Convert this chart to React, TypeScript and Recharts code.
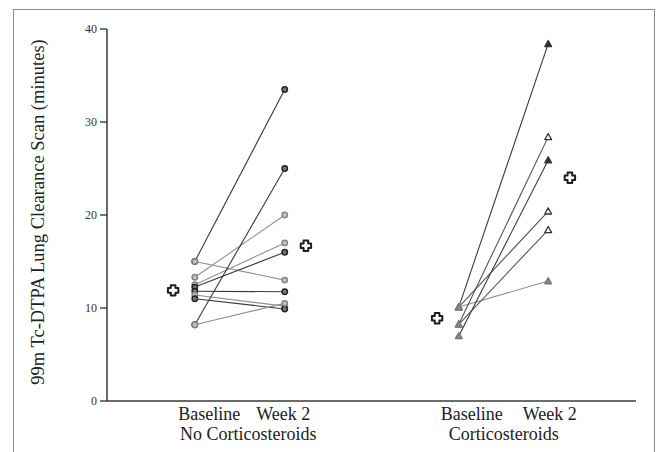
import React from 'react';
import { ScatterChart, Scatter, XAxis, YAxis } from 'recharts';

// ---- data (minutes) ----
const noSteroidBaseline = [15.0, 15.0, 13.3, 12.5, 12.25, 11.8, 11.4, 11.0, 8.2, 8.2];
const noSteroidWeek2 = [33.5, 13.0, 20.0, 17.0, 16.0, 11.75, 10.2, 9.9, 25.0, 10.5];
const noSteroidTone = ['dark', 'gray', 'gray', 'gray', 'dark', 'dark', 'gray', 'dark', 'dark', 'gray'];

const steroidBaseline = [10.1, 10.1, 10.1, 8.25, 8.25, 7.0];
const steroidWeek2 = [38.4, 12.9, 20.4, 28.4, 18.4, 25.9];
const steroidTone = ['dark', 'gray', 'open', 'open', 'open', 'dark'];

const noSteroidMeans = [11.9, 16.7];
const steroidMeans = [8.9, 24.0];

const yTicks = [0, 10, 20, 30, 40];
const timepointLabels = ['Baseline', 'Week 2'];
const groupLabels = ['No Corticosteroids', 'Corticosteroids'];

// horizontal slots on a 0-100 category axis
const slot = {
  nsMeanBase: 12.5, nsBase: 16.6, nsWeek: 33.6, nsMeanWeek: 37.6,
  sMeanBase: 62.4, sBase: 66.5, sWeek: 83.4, sMeanWeek: 87.5,
};
const groupTickPos = [26.7, 75.0];
// label offsets (px) of "Baseline" / "Week 2" from each group centre
const subLabelOffset = [[-39, 35], [-32, 46]];

const FONT = '"Liberation Serif", "DejaVu Serif", serif';

const lineStroke: Record<string, string> = { dark: '#3a3a3a', gray: '#919191', open: '#555' };

const CircleDot = (props: any) => {
  const { cx, cy, payload } = props;
  const dark = payload.tone === 'dark';
  return (
    <circle cx={cx} cy={cy} r={2.7} fill={dark ? '#777' : '#c4c4c4'}
      stroke={dark ? '#222' : '#858585'} strokeWidth={1.5} />
  );
};

const TriDot = (props: any) => {
  const { cx, cy, payload } = props;
  const t = payload.tone;
  const fill = t === 'dark' ? '#333' : t === 'open' ? '#fff' : '#8a8a8a';
  const stroke = t === 'gray' ? '#777' : '#333';
  const h = 3.4;
  return (
    <path d={`M${cx},${cy - h} L${cx + h},${cy + h * 0.8} L${cx - h},${cy + h * 0.8} Z`}
      fill={fill} stroke={stroke} strokeWidth={1.3} strokeLinejoin="round" />
  );
};

const PlusDot = (props: any) => {
  const { cx, cy } = props;
  const a = 5.2, w = 2.3;
  const d = `M${cx - w},${cy - a} L${cx + w},${cy - a} L${cx + w},${cy - w} L${cx + a},${cy - w} L${cx + a},${cy + w} L${cx + w},${cy + w} L${cx + w},${cy + a} L${cx - w},${cy + a} L${cx - w},${cy + w} L${cx - a},${cy + w} L${cx - a},${cy - w} L${cx - w},${cy - w} Z`;
  return <path d={d} fill="#fff" stroke="#1e1e1e" strokeWidth={2} strokeLinejoin="round" />;
};

const GroupTick = (props: any) => {
  const { x, y, index } = props;
  const off = subLabelOffset[index] || [0, 0];
  const common = { fontFamily: FONT, fontSize: 18, fill: '#222', textAnchor: 'middle' as const };
  return (
    <g>
      <text x={x + off[0]} y={y + 19} {...common}>{timepointLabels[0]}</text>
      <text x={x + off[1]} y={y + 19} {...common}>{timepointLabels[1]}</text>
      <text x={x} y={y + 39} {...common}>{groupLabels[index]}</text>
    </g>
  );
};

const YLabel = (props: any) => {
  const { viewBox } = props;
  const x = viewBox.x + 26;
  const y = viewBox.y + viewBox.height / 2 - 3;
  return (
    <text x={x} y={y} transform={`rotate(-90, ${x}, ${y})`} textAnchor="middle"
      dominantBaseline="central" fontFamily={FONT} fontSize={18.5} fill="#222">
      99m Tc-DTPA Lung Clearance Scan (minutes)
    </text>
  );
};

export default function App() {
  const nsPairs = noSteroidBaseline.map((b, i) => ({ b, w: noSteroidWeek2[i], tone: noSteroidTone[i] }));
  const sPairs = steroidBaseline.map((b, i) => ({ b, w: steroidWeek2[i], tone: steroidTone[i] }));

  return (
    <div style={{ position: 'absolute', left: 0, top: 0, width: 660, height: 452, background: '#fff' }}>
      <div style={{
        position: 'absolute', left: 13, top: 9, width: 642, height: 460,
        borderStyle: 'solid', borderColor: '#8a8a8a', borderWidth: '1.5px 1.5px 0 1.5px', boxSizing: 'border-box',
      }} />
      <ScatterChart width={660} height={452} margin={{ top: 29, right: 24, bottom: 6, left: 12 }}
        style={{ position: 'absolute', left: 0, top: 0 }}>
        <XAxis type="number" dataKey="x" domain={[0, 100]} ticks={groupTickPos}
          tickLine={false} tickSize={0} tickMargin={0} height={45}
          axisLine={{ stroke: '#3a3a3a', strokeWidth: 1.5 }}
          tick={<GroupTick />} interval={0} />
        <YAxis type="number" dataKey="y" domain={[0, 40]} ticks={yTicks} width={95}
          tickSize={7} tickMargin={3}
          axisLine={{ stroke: '#1e1e1e', strokeWidth: 1.3 }} tickLine={{ stroke: '#1e1e1e', strokeWidth: 1.2 }}
          tick={{ fontFamily: FONT, fontSize: 12, fill: '#333' }}
          label={<YLabel />} />

        {nsPairs.map((p, i) => (
          <Scatter key={'ns' + i} isAnimationActive={false}
            data={[{ x: slot.nsBase, y: p.b, tone: p.tone }, { x: slot.nsWeek, y: p.w, tone: p.tone }]}
            line={{ stroke: lineStroke[p.tone], strokeWidth: 1.1 }} shape={CircleDot} />
        ))}
        {sPairs.map((p, i) => (
          <Scatter key={'s' + i} isAnimationActive={false}
            data={[{ x: slot.sBase, y: p.b, tone: 'gray' }, { x: slot.sWeek, y: p.w, tone: p.tone }]}
            line={{ stroke: lineStroke[p.tone], strokeWidth: 1.1 }} shape={TriDot} />
        ))}
        <Scatter isAnimationActive={false} shape={PlusDot}
          data={[
            { x: slot.nsMeanBase, y: noSteroidMeans[0] },
            { x: slot.nsMeanWeek, y: noSteroidMeans[1] },
            { x: slot.sMeanBase, y: steroidMeans[0] },
            { x: slot.sMeanWeek, y: steroidMeans[1] },
          ]} />
      </ScatterChart>
    </div>
  );
}
